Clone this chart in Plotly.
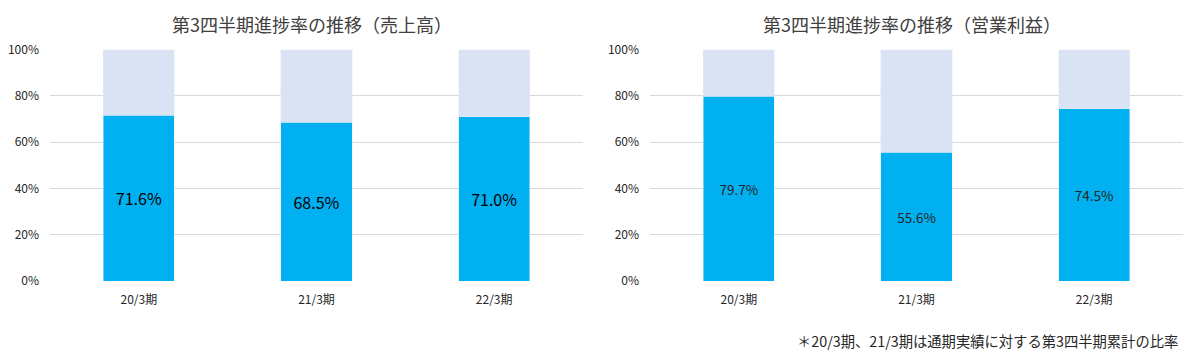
import plotly.graph_objects as go

categories = ["20/3期", "21/3期", "22/3期"]
sales_progress = [71.6, 68.5, 71.0]
op_progress = [79.7, 55.6, 74.5]
y_ticks = [0, 20, 40, 60, 80, 100]
y_tick_labels = ["0%", "20%", "40%", "60%", "80%", "100%"]
title_sales = "第3四半期進捗率の推移（売上高）"
title_op = "第3四半期進捗率の推移（営業利益）"
footnote = "＊20/3期、21/3期は通期実績に対する第3四半期累計の比率"

BLUE = "#00B0F0"
LIGHT = "#DAE3F3"
FONT = "Noto Sans CJK JP"

W, H = 1200, 357

def remainder(vals):
    return [round(100 - v, 1) for v in vals]

fig = go.Figure()

fig.add_trace(go.Bar(x=categories, y=sales_progress, marker_color=BLUE, width=0.4,
                     text=[f"{v:.1f}%" for v in sales_progress], textposition="inside",
                     insidetextanchor="middle", textfont=dict(size=16, color="#000000", family=FONT),
                     xaxis="x", yaxis="y", showlegend=False))
fig.add_trace(go.Bar(x=categories, y=remainder(sales_progress), marker_color=LIGHT, width=0.4,
                     xaxis="x", yaxis="y", showlegend=False, hoverinfo="skip"))
fig.add_trace(go.Bar(x=categories, y=op_progress, marker_color=BLUE, width=0.4,
                     text=[f"{v:.1f}%" for v in op_progress], textposition="inside",
                     insidetextanchor="middle", textfont=dict(size=13.5, color="#262626", family=FONT),
                     xaxis="x2", yaxis="y2", showlegend=False))
fig.add_trace(go.Bar(x=categories, y=remainder(op_progress), marker_color=LIGHT, width=0.4,
                     xaxis="x2", yaxis="y2", showlegend=False, hoverinfo="skip"))

y_dom = [1 - 281 / H, 1 - 49.5 / H]
axis_font = dict(size=12, color="#262626", family=FONT)

common_x = dict(type="category", range=[-0.5, 2.5], showgrid=False, showline=False,
                zeroline=False, ticks="", tickfont=axis_font, fixedrange=True,
                automargin=False, ticklabelstandoff=10)
common_y = dict(range=[0, 100], tickmode="array", tickvals=y_ticks, ticktext=y_tick_labels,
                showgrid=True, gridcolor="#D9D9D9", gridwidth=1, zeroline=False, showline=False,
                ticks="", tickfont=axis_font, ticklabelstandoff=10, fixedrange=True,
                automargin=False)

fig.update_layout(
    width=W, height=H,
    margin=dict(l=0, r=0, t=0, b=0),
    paper_bgcolor="white", plot_bgcolor="white",
    barmode="stack",
    font=dict(family=FONT),
    xaxis=dict(domain=[50 / W, 583 / W], anchor="y", **common_x),
    yaxis=dict(domain=y_dom, anchor="x", **common_y),
    xaxis2=dict(domain=[650 / W, 1183 / W], anchor="y2", **common_x),
    yaxis2=dict(domain=y_dom, anchor="x2", **common_y),
    annotations=[
        dict(text=title_sales, x=312 / W, y=1 - 24 / H, xref="paper", yref="paper",
             xanchor="center", yanchor="middle", showarrow=False,
             font=dict(size=18, color="#404040", family=FONT)),
        dict(text=title_op, x=912 / W, y=1 - 24 / H, xref="paper", yref="paper",
             xanchor="center", yanchor="middle", showarrow=False,
             font=dict(size=18, color="#404040", family=FONT)),
        dict(text=footnote, x=1180 / W, y=1 - 340 / H, xref="paper", yref="paper",
             xanchor="right", yanchor="middle", showarrow=False,
             font=dict(size=14.3, color="#262626", family=FONT)),
    ],
)

fig.write_html("out.html", config={"displayModeBar": False},
               post_script="document.body.style.margin='0';document.body.style.padding='0';")
